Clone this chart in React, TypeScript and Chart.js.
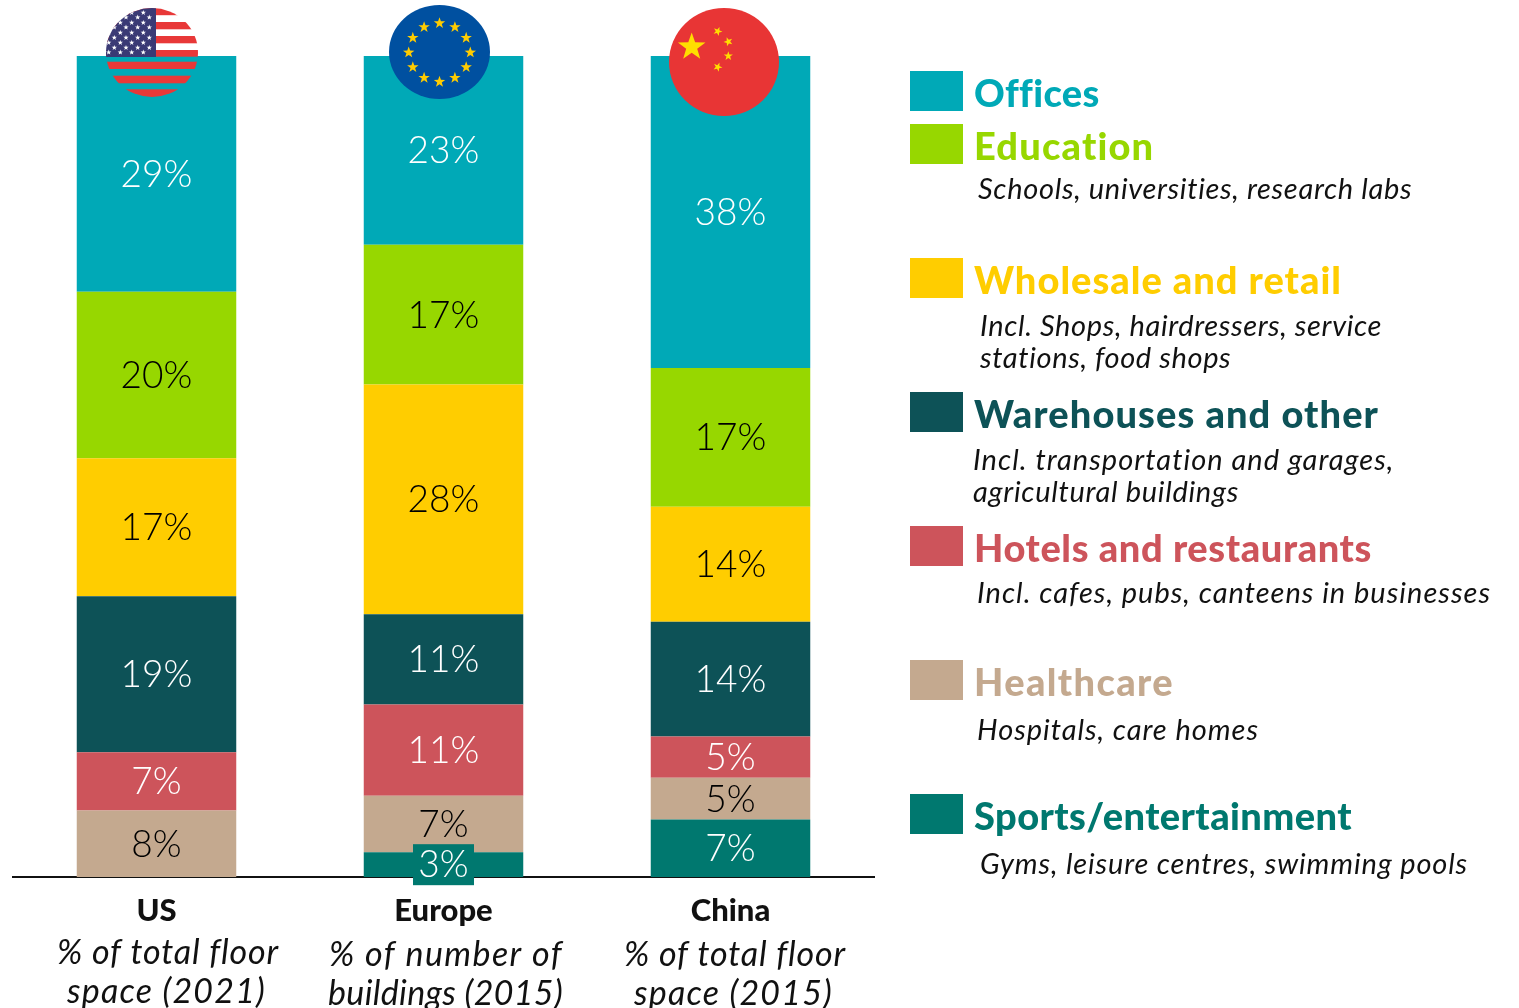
import React, { useEffect, useRef } from "react";
import { Chart, registerables } from "chart.js";

Chart.register(...registerables);

// ---------- data ----------
const categories = ["US", "Europe", "China"];
const subtitles = [
  ["% of total floor", "space (2021)"],
  ["% of number of", "buildings (2015)"],
  ["% of total floor", "space (2015)"],
];
const sectors = [
  "Offices",
  "Education",
  "Wholesale and retail",
  "Warehouses and other",
  "Hotels and restaurants",
  "Healthcare",
  "Sports/entertainment",
];
const descriptions = [
  [],
  ["Schools, universities, research labs"],
  ["Incl. Shops, hairdressers, service", "stations, food shops"],
  ["Incl. transportation and garages,", "agricultural buildings"],
  ["Incl. cafes, pubs, canteens in businesses"],
  ["Hospitals, care homes"],
  ["Gyms, leisure centres, swimming pools"],
];
const offices = [28.7, 23, 38];
const education = [20.3, 17, 16.9];
const wholesale = [16.8, 28, 14];
const warehouses = [19, 11, 14];
const hotels = [7.1, 11.1, 5];
const healthcare = [8.1, 6.9, 5.1];
const sports = [null, 3, 7];
const seriesValues = [offices, education, wholesale, warehouses, hotels, healthcare, sports];
const labelTexts = [
  ["29%", "23%", "38%"],
  ["20%", "17%", "17%"],
  ["17%", "28%", "14%"],
  ["19%", "11%", "14%"],
  ["7%", "11%", "5%"],
  ["8%", "7%", "5%"],
  ["", "3%", "7%"],
];

// ---------- styles and layout ----------
const colors = ["#00A9B7", "#97D700", "#FFCD00", "#0D5257", "#CD545B", "#C4A98F", "#00786F"];
const labelColors = ["#fff", "#000", "#000", "#fff", "#fff", "#000", "#fff"];
const FAMILY = "Lato, 'Open Sans', sans-serif";

const swatchTops = [71, 124, 258, 392, 526, 660, 794];
const nameBaselines = [106.5, 159.5, 293.5, 427.5, 561.5, 695.5, 829.5];
const nameWidths = [124, 181, 368, 405, 398, 200, 378];
const descLayout = [
  [],
  [[978, 199, 434]],
  [[980, 336, 402], [980, 368, 251]],
  [[973, 470, 421], [973, 502, 266]],
  [[977, 603, 514]],
  [[977, 740, 282]],
  [[980, 874, 488]],
];
const subtitleLayout = [
  [[57, 964, 222], [67, 1003, 199]],
  [[329, 966, 234], [328, 1005, 235]],
  [[624, 966, 222], [634, 1005, 199]],
];

function fitText(ctx: any, text: string, x: number, y: number, width: number) {
  ctx.letterSpacing = "0px";
  const w = ctx.measureText(text).width;
  ctx.letterSpacing = `${(width - w) / text.length}px`;
  ctx.fillText(text, x, y);
  ctx.letterSpacing = "0px";
}

function star(ctx: any, cx: number, cy: number, r: number, rot = 0) {
  ctx.beginPath();
  for (let i = 0; i < 10; i++) {
    const rad = i % 2 === 0 ? r : r * 0.4;
    const a = -Math.PI / 2 + rot + (i * Math.PI) / 5;
    const px = cx + rad * Math.cos(a);
    const py = cy + rad * Math.sin(a);
    if (i === 0) ctx.moveTo(px, py);
    else ctx.lineTo(px, py);
  }
  ctx.closePath();
  ctx.fill();
}

function drawUS(ctx: any) {
  ctx.save();
  ctx.beginPath();
  ctx.ellipse(152, 52.5, 46, 44.5, 0, 0, Math.PI * 2);
  ctx.clip();
  ctx.fillStyle = "#E83838";
  [[8, 15.2], [22, 29.3], [36, 43.3], [50, 56.7], [61.7, 69], [75.7, 83.3], [89.3, 97]].forEach(([a, b]) =>
    ctx.fillRect(100, a, 104, b - a)
  );
  ctx.fillStyle = "#3A3A75";
  ctx.fillRect(100, 5, 56, 52);
  ctx.fillStyle = "#fff";
  const rows = [12.7, 17.3, 22.7, 27.3, 32.7, 37.7, 42.7, 47.7, 52.3];
  const cols = [108.7, 114.3, 120.3, 126, 131.7, 137.7, 143.3, 149.3];
  rows.forEach((y, r) => {
    cols.forEach((x, c) => {
      if ((r + c) % 2 === 0) star(ctx, x, y, 2.8);
    });
  });
  ctx.restore();
}

function drawEU(ctx: any) {
  ctx.save();
  ctx.fillStyle = "#0050A0";
  ctx.beginPath();
  ctx.ellipse(439.5, 52, 50.5, 47, 0, 0, Math.PI * 2);
  ctx.fill();
  ctx.fillStyle = "#FFCC00";
  for (let i = 0; i < 12; i++) {
    const a = (i * Math.PI) / 6;
    star(ctx, 439.5 + 30.8 * Math.sin(a), 52.5 - 29.3 * Math.cos(a), 6);
  }
  ctx.restore();
}

function drawCN(ctx: any) {
  ctx.save();
  ctx.fillStyle = "#E83535";
  ctx.beginPath();
  ctx.ellipse(724, 62, 55, 54, 0, 0, Math.PI * 2);
  ctx.fill();
  ctx.fillStyle = "#FFDE00";
  star(ctx, 691.7, 47, 14.5);
  star(ctx, 717.7, 31.3, 4.8, 0.4);
  star(ctx, 728.3, 41.7, 4.8, 0.9);
  star(ctx, 728.3, 56, 4.8, 0);
  star(ctx, 717.7, 67, 4.8, 0.4);
  ctx.restore();
}

const overlayPlugin = {
  id: "overlay",
  afterDatasetsDraw(chart: any) {
    const { ctx } = chart;
    ctx.save();
    // percentage labels in the bar segments
    ctx.textAlign = "center";
    ctx.textBaseline = "middle";
    chart.data.datasets.forEach((ds: any, d: number) => {
      const s = sectors.length - 1 - d;
      const meta = chart.getDatasetMeta(d);
      meta.data.forEach((bar: any, i: number) => {
        const text = labelTexts[s][i];
        if (!text) return;
        const cy = (bar.y + bar.base) / 2;
        const boxed = s === 6 && i === 1;
        if (boxed) {
          ctx.fillStyle = colors[s];
          ctx.fillRect(bar.x - 30.5, cy - 20.5, 61, 41);
        }
        ctx.fillStyle = labelColors[s];
        ctx.font = `300 37px ${FAMILY}`;
        ctx.fillText(text, bar.x, boxed ? cy : cy + 1);
      });
    });

    // flags
    drawUS(ctx);
    drawEU(ctx);
    drawCN(ctx);

    // sub-captions under categories
    ctx.textAlign = "left";
    ctx.textBaseline = "alphabetic";
    ctx.fillStyle = "#111";
    ctx.font = `italic 400 34px ${FAMILY}`;
    subtitles.forEach((lines, c) =>
      lines.forEach((line, l) => {
        const [x, y, w] = subtitleLayout[c][l];
        fitText(ctx, line, x, y, w);
      })
    );

    // legend
    sectors.forEach((name, s) => {
      ctx.fillStyle = colors[s];
      ctx.fillRect(910, swatchTops[s], 53, 40);
      ctx.font = `900 38px ${FAMILY}`;
      fitText(ctx, name, 974, nameBaselines[s], nameWidths[s]);
      ctx.fillStyle = "#111";
      ctx.font = `italic 400 29px ${FAMILY}`;
      descriptions[s].forEach((line, l) => {
        const [x, y, w] = descLayout[s][l];
        fitText(ctx, line, x, y, w);
      });
    });
    ctx.restore();
  },
};

export default function App() {
  const ref = useRef<HTMLCanvasElement>(null);
  useEffect(() => {
    const chart = new Chart(ref.current as HTMLCanvasElement, {
      type: "bar",
      data: {
        labels: categories,
        datasets: sectors
          .map((name, s) => ({
            label: name,
            data: seriesValues[s],
            backgroundColor: colors[s],
            borderWidth: 0,
            categoryPercentage: 1,
            barPercentage: 159.5 / 287,
          }))
          .reverse(),
      },
      options: {
        responsive: false,
        animation: false,
        layout: { padding: { left: 13, right: 645, top: 56, bottom: 0 } },
        plugins: { legend: { display: false }, tooltip: { enabled: false } },
        scales: {
          x: {
            stacked: true,
            grid: { display: false, drawTicks: false },
            border: { display: true, color: "#111", width: 2 },
            ticks: {
              color: "#111",
              padding: 15,
              maxRotation: 0,
              font: { family: FAMILY, size: 31, weight: "900" },
            },
            afterFit: (s: any) => {
              s.height = 131;
            },
          },
          y: { stacked: true, display: false, min: 0, max: 100 },
        },
      },
      plugins: [overlayPlugin],
    } as any);
    return () => chart.destroy();
  }, []);
  return (
    <div style={{ position: "absolute", left: 0, top: 0, width: 1519, height: 1008, overflow: "hidden", background: "#fff" }}>
      <canvas ref={ref} width={1519} height={1008} style={{ display: "block" }} />
    </div>
  );
}
